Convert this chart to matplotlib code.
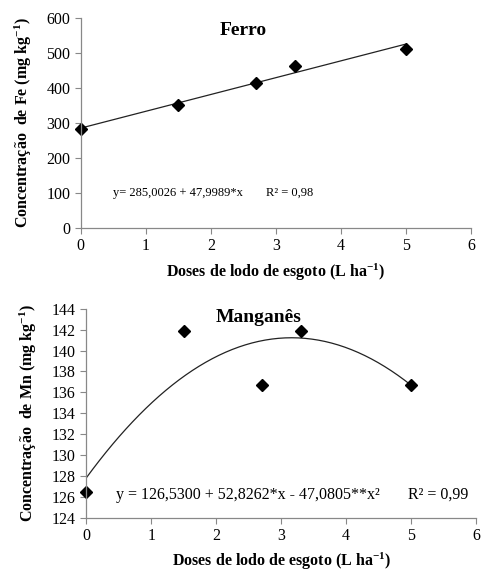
import matplotlib
matplotlib.use('Agg')
import matplotlib.pyplot as plt
import numpy as np

plt.rcParams['font.family'] = ['Liberation Serif', 'DejaVu Serif']
plt.rcParams['mathtext.default'] = 'regular'

# data
doses = [0, 1.5, 2.7, 3.3, 5]
fe = [283, 350, 414, 463, 512]
mn = [126.5, 141.9, 136.7, 141.9, 136.7]
fe_coef = [285.0026, 47.9989]          # y = a + b*x
mn_coef = [127.8, 8.5, -1.345]         # curve as drawn on the chart

fig = plt.figure(figsize=(4.84, 5.74), dpi=100)
ax1 = fig.add_axes([0.167, 0.603, 0.806, 0.366])
ax2 = fig.add_axes([0.178, 0.098, 0.806, 0.364])

def style(ax):
    for s in ['top', 'right']:
        ax.spines[s].set_visible(False)
    for s in ['left', 'bottom']:
        ax.spines[s].set_color('#888888')
        ax.spines[s].set_linewidth(0.9)
    ax.tick_params(direction='out', length=4, color='#888888', labelsize=11.5)
    ax.set_xlim(0, 6)
    ax.set_xticks(range(7))
    ax.set_xlabel('Doses de lodo de esgoto (L ha$^{-1}$)', fontsize=11.5,
                  fontweight='bold', labelpad=5)

# Ferro
xs = np.linspace(0, 5, 50)
ax1.plot(xs, fe_coef[0] + fe_coef[1] * xs, color='#222222', lw=0.9)
ax1.plot(doses, fe, 'D', color='black', ms=6.5, clip_on=False)
ax1.set_ylim(0, 600)
ax1.set_yticks(range(0, 601, 100))
style(ax1)
ax1.set_ylabel('Concentração  de Fe (mg kg$^{-1}$)', fontsize=11.5,
               fontweight='bold', labelpad=9)
ax1.text(2.5, 565, 'Ferro', fontsize=14, fontweight='bold', ha='center', va='center')
ax1.text(0.49, 100, 'y= 285,0026 + 47,9989*x', fontsize=9, va='center')
ax1.text(2.85, 100, 'R² = 0,98', fontsize=9, va='center')

# Manganes
ax2.plot(xs, mn_coef[0] + mn_coef[1] * xs + mn_coef[2] * xs ** 2,
         color='#222222', lw=0.9)
ax2.plot(doses, mn, 'D', color='black', ms=6.5, clip_on=False)
ax2.set_ylim(124, 144)
ax2.set_yticks(range(124, 145, 2))
style(ax2)
ax2.set_ylabel('Concentração  de Mn (mg kg$^{-1}$)', fontsize=11.5,
               fontweight='bold', labelpad=9)
ax2.text(2.65, 143.2, 'Manganês', fontsize=14, fontweight='bold', ha='center', va='center')
ax2.text(0.46, 126.2, 'y = 126,5300 + 52,8262*x - 47,0805**x²', fontsize=11.5, va='center')
ax2.text(4.95, 126.2, 'R² = 0,99', fontsize=11.5, va='center')

fig.savefig('out.png', dpi=100)
